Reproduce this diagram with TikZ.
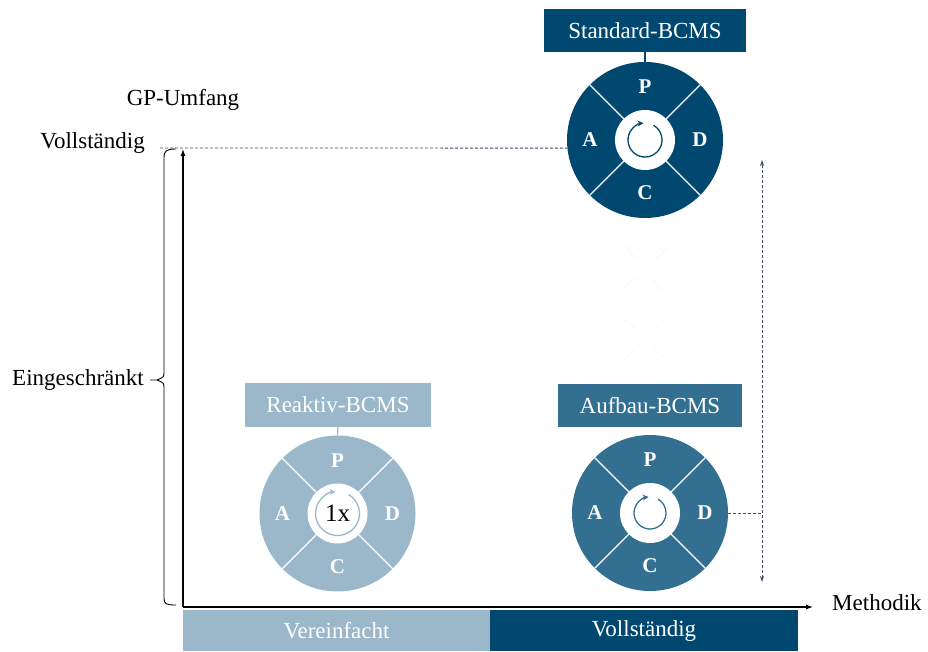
\documentclass[tikz,border=0pt]{standalone}
\usepackage{fontspec}
\setmainfont{Liberation Serif}
\usetikzlibrary{calc,arrows.meta}

\definecolor{bcmsdark}{RGB}{0,72,112}
\definecolor{bcmsmid}{RGB}{51,111,145}
\definecolor{bcmslight}{RGB}{155,184,203}
\definecolor{guidegray}{RGB}{62,76,100}

\newcommand\lblfont{\fontsize{23}{26}\selectfont}

\tikzset{
  wheeldisc/.style={circle, inner sep=0pt, outer sep=0pt, minimum size=156pt},
  hubdisc/.style={circle, fill=white, inner sep=0pt, outer sep=0pt, minimum size=60pt},
  spoke/.style={draw=white, line width=1.1pt},
  phase/.style={text=white, inner sep=0pt, font=\bfseries\fontsize{21}{21}\selectfont},
  cyclearrow/.style={line width=1.3pt, -{Stealth[length=6pt,width=6pt]}},
  titlebox/.style={text=white, inner sep=0pt, outer sep=0pt, minimum height=43pt, font=\lblfont},
  stem/.style={line width=1.2pt},
  bar/.style={text=white, inner sep=0pt, outer sep=0pt, minimum height=41pt, font=\lblfont, anchor=south west},
  axis/.style={draw=black, line width=1.1pt},
  axistip/.style={-{Latex[length=7pt,width=5pt]}},
  axislabel/.style={inner sep=0pt, font=\lblfont},
  guide/.style={draw=guidegray, line width=0.8pt, densely dashed},
  ghost/.style={draw=black!2, line width=1.4pt}
}

% PDCA wheel: name, centre, colour, radius of the cycle arrow
\newcommand\pdcawheel[4]{%
  \node[wheeldisc, fill=#3] (#1) at (#2) {};
  \node[hubdisc] (#1-hub) at (#1.center) {};
  \foreach \a in {45,135,225,315}
    \draw[spoke] ($(#1.center)+(\a:30pt)$) -- ($(#1.center)+(\a:78pt)$);
  \node[phase] (#1-P) at ($(#1.center)+(90:53pt)$) {P};
  \node[phase] (#1-D) at ($(#1.center)+(0:55pt)$) {D};
  \node[phase] (#1-C) at ($(#1.center)+(270:53pt)$) {C};
  \node[phase] (#1-A) at ($(#1.center)+(180:55pt)$) {A};
  \draw[cyclearrow, draw=#3] ($(#1.center)+(60:#4pt)$)
    arc[start angle=60, end angle=-265, radius=#4pt];
}

\begin{document}
\begin{tikzpicture}[x=1pt, y=1pt]
  \useasboundingbox (0,0) rectangle (928,651);

  % wheels and their titles
  \pdcawheel{std}{645,511}{bcmsdark}{17}
  \node[titlebox, fill=bcmsdark, minimum width=202pt] (stdbox) at (645,620.5) {Standard-BCMS};
  \draw[stem, draw=bcmsdark] (stdbox.south) -- (std.north);

  \pdcawheel{rea}{337.5,137.5}{bcmslight}{22}
  \node[inner sep=0pt, font=\fontsize{25}{25}\selectfont] (rea-once) at (rea.center) {1x};
  \node[titlebox, fill=bcmslight, minimum width=186pt] (reabox) at (338,246) {Reaktiv-BCMS};
  \draw[stem, draw=bcmslight] (reabox.south) -- (rea.north);

  \pdcawheel{auf}{650,138}{bcmsmid}{16}
  \node[titlebox, fill=bcmsmid, minimum width=184pt] (aufbox) at (650,245.5) {Aufbau-BCMS};

  % faint spokes between the wheels
  \draw[ghost] (625,406) -- (637,391);
  \draw[ghost] (655,391) -- (668,403);
  \draw[ghost] (622,363) -- (637,374);
  \draw[ghost] (652,373) -- (663,359);
  \draw[ghost] (623,333) -- (637,321);
  \draw[ghost] (655,321) -- (667,333);
  \draw[ghost] (625,293) -- (637,303);
  \draw[ghost] (653,303) -- (663,293);

  % axes
  \coordinate (O) at (183,44);
  \coordinate (ytop) at (183,502);
  \coordinate (xend) at (813,44);
  \draw[axis, axistip] (O) -- (ytop);
  \draw[axis, axistip] (O) -- (xend);

  % axis labels
  \node[axislabel] (gp) at (183,551) {GP-Umfang};
  \node[axislabel, anchor=east] (voll) at (145,508) {Vollständig};
  \node[axislabel, anchor=east] (einge) at (144,271) {Eingeschränkt};
  \node[axislabel, anchor=west] (meth) at (832,48) {Methodik};

  % brace along the vertical axis
  \draw[axis, line width=0.9pt]
    (176,502) .. controls (166,502) and (164,500) .. (164,493)
    -- (164,279) .. controls (164,274) .. (157,271) -- (150,271);
  \draw[axis, line width=0.9pt]
    (157,271) .. controls (164,268) .. (164,263)
    -- (164,53) .. controls (164,47) and (166,46) .. (176,46);

  % dashed guide from the full scope level
  \coordinate (vtick) at (160,503);
  \draw[guide] (vtick) -- (std.186);

  % dashed range arrow and connector
  \coordinate (rtop) at (762,491);
  \coordinate (rbot) at (762,69);
  \draw[guide, {Stealth[length=6pt,width=4pt]}-{Stealth[length=6pt,width=4pt]}] (rbot) -- (rtop);
  \draw[guide] (auf.east) -- (auf.east -| rtop);

  % methodology bars
  \node[bar, fill=bcmslight, minimum width=307pt] (simp) at (183,0) {Vereinfacht};
  \node[bar, fill=bcmsdark, minimum width=308pt] (full) at (simp.south east) {Vollständig};
\end{tikzpicture}
\end{document}
